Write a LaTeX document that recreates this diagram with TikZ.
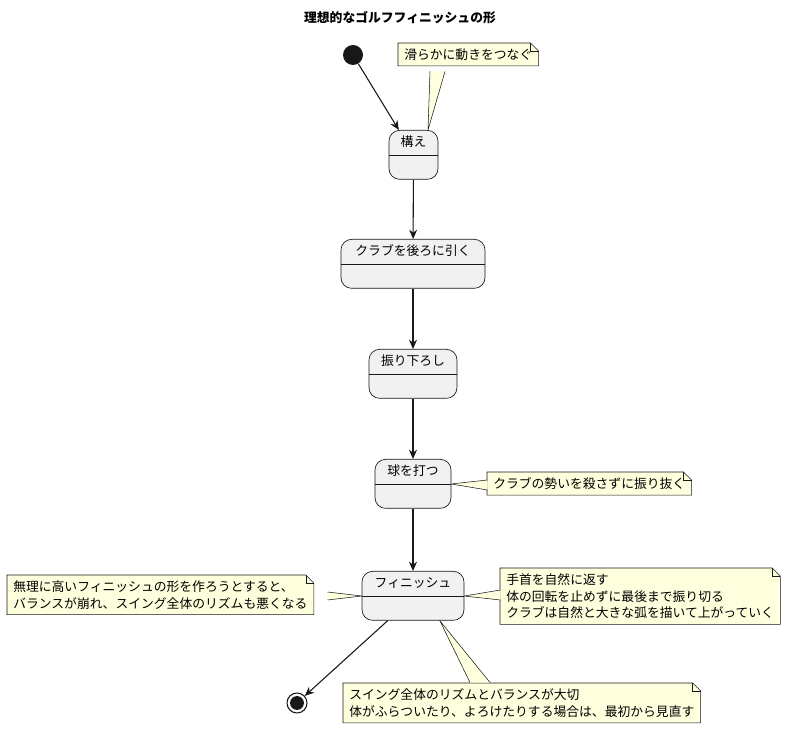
\documentclass[tikz,border=0pt]{standalone}
\usepackage{fontspec}
\setmainfont{Noto Sans CJK JP}
\usetikzlibrary{backgrounds,arrows.meta}
\definecolor{stfill}{HTML}{F1F1F1}
\definecolor{notefill}{HTML}{FEFFDD}
\definecolor{ln}{HTML}{181818}
\tikzset{
  st/.style={draw=ln,fill=stfill,rounded corners=8pt,line width=0.5pt,inner sep=0pt},
  txt/.style={font=\fontsize{9.6}{12.5}\selectfont,inner sep=0pt},
  notet/.style={font=\fontsize{9.6}{12.5}\selectfont,align=left,inner xsep=4.5pt,inner ysep=4pt,anchor=north west},
  notebox/.style={draw=ln,fill=notefill,line width=0.4pt},
  arr/.style={draw=ln,line width=0.8pt,-{Stealth[length=7pt,width=6pt]}},
}
\newcommand\gstate[5]{%
  \node[st,minimum width=#4*0.75pt,minimum height=49*0.75pt,anchor=north] (#1) at (#2,#3) {};
  \node[txt] at ([yshift=-9pt]#1.north) {#5};
  \draw[ln,line width=0.5pt] ([yshift=-18.75pt]#1.north west) -- ([yshift=-18.75pt]#1.north east);}
\newcommand\gnote[4]{%
  \node[notet] (#1) at (#2,#3) {#4};
  \begin{scope}[on background layer]
  \path[notebox] (#1.south west) -- (#1.north west) -- ([xshift=-6pt]#1.north east) -- ([yshift=-6pt]#1.north east) -- (#1.south east) -- cycle;
  \draw[ln,line width=0.4pt] ([xshift=-6pt]#1.north east) -- ([xshift=-6pt,yshift=-6pt]#1.north east) -- ([yshift=-6pt]#1.north east);
  \end{scope}}
\begin{document}
\begin{tikzpicture}[x=0.75pt,y=-0.75pt]
\useasboundingbox (0,0) rectangle (800,730);
\node[font=\bfseries\fontsize{9.6}{12}\selectfont] (title) at (400,18) {理想的なゴルフフィニッシュの形};
\node[circle,fill=ln,minimum size=15pt,inner sep=0pt] (start) at (353,55) {};
\node[circle,draw=ln,line width=0.8pt,minimum size=15pt,inner sep=0pt] (end) at (297,703) {};
\fill[ln] (end) circle (5.2pt);
\gstate{s1}{413.5}{130}{49}{構え}
\gstate{s2}{413}{239}{144}{クラブを後ろに引く}
\gstate{s3}{413}{349}{88}{振り下ろし}
\gstate{s4}{413}{459}{76}{球を打つ}
\gstate{s5}{413}{571}{102}{フィニッシュ}
\draw[arr] (start) -- ([xshift=-11pt]s1.north);
\draw[arr] (s1) -- (s2);
\draw[arr] (s2) -- (s3);
\draw[arr] (s3) -- (s4);
\draw[arr] (s4) -- (s5);
\draw[arr] ([xshift=-19pt]s5.south) -- (end);
\gnote{n1}{398}{43}{滑らかに動きをつなぐ}
\gnote{n2}{487}{472}{クラブの勢いを殺さずに振り抜く}
\gnote{n3}{7}{575}{無理に高いフィニッシュの形を作ろうとすると、\\バランスが崩れ、スイング全体のリズムも悪くなる}
\gnote{n4}{500}{568}{手首を自然に返す\\体の回転を止めずに最後まで振り切る\\クラブは自然と大きな弧を描いて上がっていく}
\gnote{n5}{343}{683}{スイング全体のリズムとバランスが大切\\体がふらついたり、よろけたりする場合は、最初から見直す}
\begin{scope}[on background layer]
\path[notebox] (430,71.5) -- (428,130) -- (445,71.5);
\path[notebox] (487.5,480) -- (451,484) -- (487.5,490);
\path[notebox] (327.5,592) -- (362,596) -- (327.5,600);
\path[notebox] (500.5,590) -- (464,596) -- (500.5,600);
\path[notebox] (470,682.5) -- (440,621) -- (490,682.5);
\end{scope}
\end{tikzpicture}
\end{document}
